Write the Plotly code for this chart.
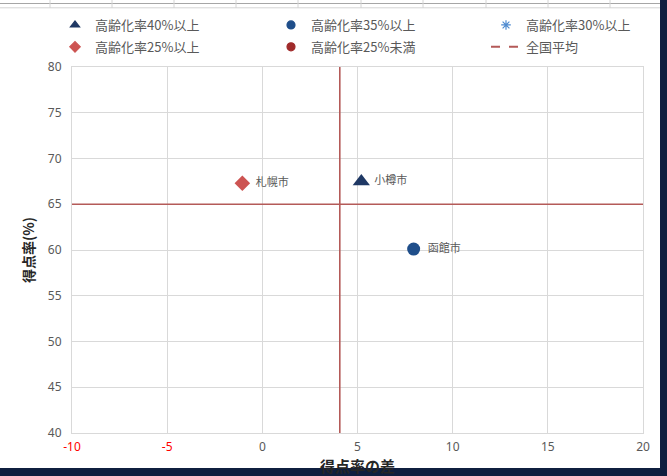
import plotly.graph_objects as go

# ---- data ----
cities = ["小樽市", "函館市", "札幌市"]
groups = ["高齢化率40%以上", "高齢化率35%以上", "高齢化率25%以上"]
score_diff = [5.2, 7.95, -1.05]      # 得点率の差
score_rate = [67.5, 60.1, 67.3]      # 得点率(%)
national_avg_x = 4.07
national_avg_y = 65.0

legend_names = ["高齢化率40%以上", "高齢化率25%以上",
                "高齢化率35%以上", "高齢化率25%未満",
                "高齢化率30%以上", "全国平均"]
x_ticks = [-10, -5, 0, 5, 10, 15, 20]
y_ticks = [40, 45, 50, 55, 60, 65, 70, 75, 80]

# ---- styles ----
style = {
    "高齢化率40%以上": dict(symbol="triangle-up", color="#1F3864"),
    "高齢化率35%以上": dict(symbol="circle", color="#1F4E8A"),
    "高齢化率30%以上": dict(symbol="asterisk-open", color="#4F8BD0"),
    "高齢化率25%以上": dict(symbol="diamond", color="#CD5452"),
    "高齢化率25%未満": dict(symbol="circle", color="#A02B2B"),
}
plot_size = {"高齢化率40%以上": 15, "高齢化率35%以上": 13, "高齢化率25%以上": 12}
label_pad = {"高齢化率40%以上": "&nbsp;", "高齢化率35%以上": "&nbsp;&nbsp;",
             "高齢化率25%以上": "&nbsp;&nbsp;"}
line_color = "#B45A58"
grey = "#595959"
jp = "Noto Sans CJK JP"

fig = go.Figure()

# data traces
for c, g, xv, yv in zip(cities, groups, score_diff, score_rate):
    st = style[g]
    fig.add_trace(go.Scatter(
        x=[xv], y=[yv], mode="markers+text", text=[label_pad[g] + c],
        textposition="middle right",
        textfont=dict(family=jp, size=11, color=grey),
        marker=dict(symbol=st["symbol"], color=st["color"], size=plot_size[g]),
        showlegend=False, hoverinfo="skip"))

# national average lines
fig.add_trace(go.Scatter(
    x=[x_ticks[0], x_ticks[-1], None, national_avg_x, national_avg_x],
    y=[national_avg_y, national_avg_y, None, y_ticks[0], y_ticks[-1]],
    mode="lines", line=dict(color=line_color, width=1.6),
    showlegend=False, hoverinfo="skip"))

# legend entries (three columns)
legend_ids = ["legend", "legend", "legend2", "legend2", "legend3", "legend3"]
for i, (name, lid) in enumerate(zip(legend_names, legend_ids)):
    if name == "全国平均":
        fig.add_trace(go.Scatter(x=[None], y=[None], mode="lines", name=name,
                                 line=dict(color=line_color, width=2, dash="dash"),
                                 legend=lid, legendgroup=f"g{i}"))
    else:
        st = style[name]
        fig.add_trace(go.Scatter(x=[None], y=[None], mode="markers", name=name,
                                 marker=dict(symbol=st["symbol"], color=st["color"], size=8,
                                             line=dict(width=1.2, color=st["color"])),
                                 legend=lid, legendgroup=f"g{i}"))

W, H = 667, 476
L, R, T, B = 72, 24, 67, 43
pw, ph = W - L - R, H - T - B

def px_x(x):
    return (x - L) / pw

def px_y(y):
    return (H - B - y) / ph

leg_common = dict(orientation="v", yanchor="top", xanchor="left",
                  font=dict(family=jp, size=13, color=grey),
                  bgcolor="rgba(0,0,0,0)", tracegroupgap=2)

shapes = [
    dict(type="rect", xref="paper", yref="paper", x0=px_x(-10), x1=px_x(660),
         y0=px_y(468), y1=px_y(-10), fillcolor="white", line=dict(width=0), layer="below"),
    dict(type="line", xref="paper", yref="paper", x0=px_x(0), x1=px_x(660),
         y0=px_y(3.5), y1=px_y(3.5), line=dict(color="#A6A6A6", width=1), layer="below"),
    dict(type="line", xref="paper", yref="paper", x0=px_x(0), x1=px_x(660),
         y0=px_y(7.8), y1=px_y(7.8), line=dict(color="#D4D4D4", width=1), layer="below"),
]
for sx in [50, 112, 174, 236, 298, 361, 423, 486, 548, 610]:
    shapes.append(dict(type="line", xref="paper", yref="paper", x0=px_x(sx), x1=px_x(sx),
                       y0=px_y(8), y1=px_y(0), line=dict(color="#D4D4D4", width=1),
                       layer="below"))

x_text = [f'<span style="color:#FF0000">{v}</span>' if v < 0 else str(v) for v in x_ticks]

fig.update_layout(
    width=W, height=H,
    margin=dict(l=L, r=R, t=T, b=B, autoexpand=False),
    paper_bgcolor="#0F1F3F", plot_bgcolor="white",
    shapes=shapes,
    xaxis=dict(range=[x_ticks[0], x_ticks[-1]], tickvals=x_ticks, ticktext=x_text,
               showgrid=True, gridcolor="#D9D9D9", gridwidth=1, zeroline=False,
               showline=True, linecolor="#D9D9D9", mirror=True, automargin=False,
               tickfont=dict(family="Noto Sans", size=12, color=grey), ticklabelstandoff=3,
               title=dict(text="<b>得点率の差</b>", font=dict(family=jp, size=15, color="#262626"),
                          standoff=8)),
    yaxis=dict(range=[y_ticks[0], y_ticks[-1]], tickvals=y_ticks,
               showgrid=True, gridcolor="#D9D9D9", gridwidth=1, zeroline=False,
               showline=True, linecolor="#D9D9D9", mirror=True, automargin=False,
               tickfont=dict(family="Noto Sans", size=12, color=grey), ticklabelstandoff=7,
               title=dict(text="<b>得点率(%)</b>", font=dict(family=jp, size=14, color="#262626"),
                          standoff=9)),
    legend=dict(x=px_x(55), y=px_y(10), **leg_common),
    legend2=dict(x=px_x(271), y=px_y(10), **leg_common),
    legend3=dict(x=px_x(486), y=px_y(10), **leg_common),
)

fig.write_html(
    "out.html",
    config={"displayModeBar": False},
    post_script="document.body.style.margin='0';document.body.style.overflow='hidden';",
)
